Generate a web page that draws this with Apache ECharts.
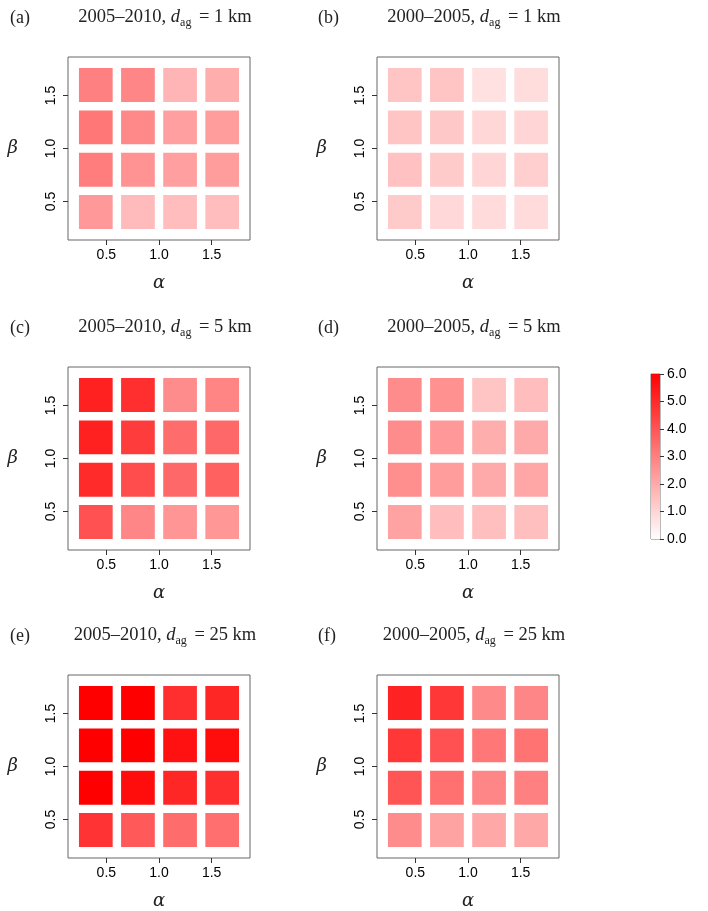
<!DOCTYPE html>
<html>
<head>
<meta charset="utf-8">
<script src="https://cdn.jsdelivr.net/npm/echarts@6/dist/echarts.min.js"></script>
<style>
  html, body { margin: 0; padding: 0; background: #fff; }
  #chart { width: 708px; height: 911px; }
</style>
</head>
<body>
<div id="chart"></div>
<script>
// grid of the parameters
const alphaVals = [0.4, 0.8, 1.2, 1.6];
const betaRows = [1.6, 1.2, 0.8, 0.4]; // top row first
const tickVals = [0.5, 1.0, 1.5];
const colorTicks = [0, 1, 2, 3, 4, 5, 6];

const panelLetters = ['(a)', '(b)', '(c)', '(d)', '(e)', '(f)'];
const panelPeriods = ['2005–2010', '2000–2005', '2005–2010', '2000–2005', '2005–2010', '2000–2005'];
const panelDist = ['1 km', '1 km', '5 km', '5 km', '25 km', '25 km'];

// values, one row per beta (top to bottom), one column per alpha
const valsA = [[3.0, 2.85, 1.75, 1.9], [3.2, 2.8, 2.25, 2.3], [3.05, 2.55, 2.25, 2.3], [2.4, 1.6, 1.55, 1.55]];
const valsB = [[1.4, 1.4, 0.7, 0.8], [1.4, 1.3, 0.95, 1.0], [1.45, 1.25, 1.0, 1.15], [1.25, 0.9, 0.85, 0.85]];
const valsC = [[5.25, 4.9, 2.7, 2.9], [5.25, 4.6, 3.45, 3.55], [5.0, 4.2, 3.55, 3.75], [4.1, 2.85, 2.5, 2.45]];
const valsD = [[2.7, 2.6, 1.4, 1.55], [2.7, 2.4, 1.9, 2.0], [2.65, 2.3, 2.0, 2.1], [2.2, 1.55, 1.5, 1.5]];
const valsE = [[6.0, 6.0, 4.9, 5.1], [6.0, 6.0, 5.6, 5.7], [6.0, 5.7, 5.1, 4.9], [4.8, 3.9, 3.45, 3.4]];
const valsF = [[5.2, 4.7, 2.75, 2.85], [4.7, 4.1, 3.2, 3.3], [4.0, 3.35, 2.85, 3.0], [2.7, 2.2, 2.05, 2.05]];
const panelVals = [valsA, valsB, valsC, valsD, valsE, valsF];

const chart = echarts.init(document.getElementById('chart'));

const colLeft = [68, 377];
const rowTop = [57, 367, 675];
const gw = 182, gh = 183;
const HALF = 0.16; // half width of a cell in data units
const sans = 'Liberation Sans';
const serif = 'Liberation Serif';

const grid = [], xAxis = [], yAxis = [], series = [], title = [];

panelVals.forEach(function (vals, i) {
  const col = i % 2, row = Math.floor(i / 2);
  const left = colLeft[col], top = rowTop[row];
  grid.push({ left: left, top: top, width: gw, height: gh, show: true, borderColor: '#666', borderWidth: 1, backgroundColor: '#fff' });
  xAxis.push({
    type: 'value', gridIndex: i, min: 0.136, max: 1.864,
    axisLine: { show: false },
    splitLine: { show: false },
    axisTick: { show: true, length: 5, customValues: tickVals, lineStyle: { color: '#333' } },
    axisLabel: { customValues: tickVals, formatter: function (v) { return v.toFixed(1); }, fontSize: 14, fontFamily: sans, color: '#000', margin: 8 },
    name: 'α', nameLocation: 'middle', nameGap: 34,
    nameTextStyle: { fontFamily: 'DejaVu Serif', fontStyle: 'italic', fontSize: 18, color: '#222' }
  });
  yAxis.push({
    type: 'value', gridIndex: i, min: 0.136, max: 1.864,
    axisLine: { show: false },
    splitLine: { show: false },
    axisTick: { show: true, length: 5, customValues: tickVals, lineStyle: { color: '#333' } },
    axisLabel: { customValues: tickVals, rotate: 90, formatter: function (v) { return v.toFixed(1); }, fontSize: 14, fontFamily: sans, color: '#000', margin: 10 },
    name: 'β', nameLocation: 'middle', nameRotate: 0, nameGap: 50,
    nameTextStyle: { fontFamily: 'DejaVu Serif', fontStyle: 'italic', fontSize: 18, color: '#222' }
  });
  const data = [];
  vals.forEach(function (r, ri) {
    r.forEach(function (v, ci) { data.push([alphaVals[ci], betaRows[ri], v]); });
  });
  series.push({
    type: 'custom', xAxisIndex: i, yAxisIndex: i, data: data,
    renderItem: function (params, api) {
      const x = api.value(0), y = api.value(1);
      const p0 = api.coord([x - HALF, y + HALF]);
      const p1 = api.coord([x + HALF, y - HALF]);
      return {
        type: 'rect',
        shape: { x: p0[0], y: p0[1], width: p1[0] - p0[0], height: p1[1] - p0[1] },
        style: { fill: api.visual('color') }
      };
    }
  });
  title.push({
    text: panelLetters[i], left: col === 0 ? 5 : 313, top: top - 53,
    textStyle: { fontFamily: serif, fontSize: 18, fontWeight: 'normal', color: '#222' }
  });
  title.push({
    text: panelPeriods[i] + ', {it|d}{sub|ag} = ' + panelDist[i],
    left: left + gw / 2 + 1, textAlign: 'center', top: top - 57,
    textStyle: {
      fontFamily: serif, fontSize: 18.5, fontWeight: 'normal', color: '#222',
      rich: {
        it: { fontFamily: serif, fontSize: 18.5, fontStyle: 'italic', color: '#222' },
        sub: { fontFamily: serif, fontSize: 12, color: '#222', padding: [12, 3, 0, 0] }
      }
    }
  });
});

// colour bar
grid.push({ left: 651, top: 374, width: 9, height: 165, show: true, borderColor: '#777', borderWidth: 1 });
xAxis.push({ type: 'category', gridIndex: 6, data: ['z'], show: false });
yAxis.push({
  type: 'value', gridIndex: 6, min: 0, max: 6, interval: 1, position: 'right',
  axisLine: { show: false }, splitLine: { show: false },
  axisTick: { show: true, length: 4, lineStyle: { color: '#333' } },
  axisLabel: { formatter: function (v) { return v.toFixed(1); }, fontSize: 14, fontFamily: sans, color: '#000', margin: 7 }
});
series.push({
  type: 'bar', xAxisIndex: 6, yAxisIndex: 6, data: [colorTicks[colorTicks.length - 1]], barWidth: '100%',
  itemStyle: { color: { type: 'linear', x: 0, y: 0, x2: 0, y2: 1, colorStops: [{ offset: 0, color: '#ff0000' }, { offset: 1, color: '#ffffff' }] } },
  silent: true
});

chart.setOption({
  backgroundColor: '#fff',
  animation: false,
  title: title,
  grid: grid,
  xAxis: xAxis,
  yAxis: yAxis,
  visualMap: {
    type: 'continuous', show: false, min: 0, max: 6, dimension: 2,
    seriesIndex: [0, 1, 2, 3, 4, 5],
    inRange: { color: ['#ffffff', '#ff0000'] }
  },
  series: series
});
</script>
</body>
</html>
